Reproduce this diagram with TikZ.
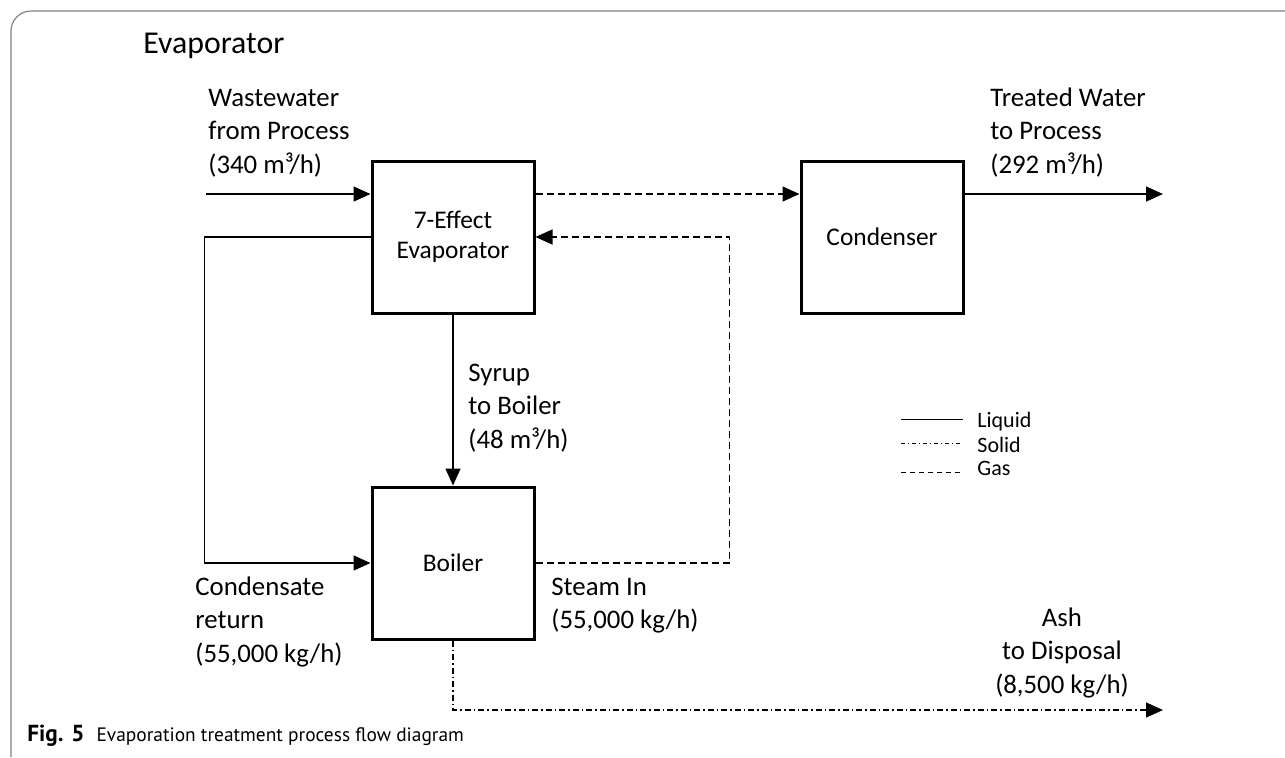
\documentclass[tikz,border=0pt]{standalone}
\usepackage{fontspec}
\setmainfont{Carlito}
\newfontfamily\capfont{PT Sans}
\usetikzlibrary{arrows.meta,positioning,calc}
\definecolor{framegray}{RGB}{128,128,128}

\begin{document}
\begin{tikzpicture}[
  x=0.5pt,y=-0.5pt,
  unit/.style={draw,line width=1.5pt,minimum width=81pt,minimum height=76pt,inner sep=0pt,align=center,font=\fontsize{12.7}{15}\selectfont},
  lbl/.style={anchor=north west,inner sep=0pt,align=left,font=\fontsize{13.4}{16.75}\selectfont},
  arr/.style={-{Triangle[length=8.5pt,width=7.5pt]},line width=0.75pt},
  gas/.style={arr,dash pattern=on 3.5pt off 2pt},
  ash/.style={arr,dash pattern=on 3pt off 1.5pt on 0.75pt off 1.5pt},
  key/.style={anchor=west,inner sep=0pt,text height=0.7em,text depth=0.25em,font=\fontsize{11}{13}\selectfont}
]
\useasboundingbox (0,0) rectangle (1285,757);
% frame and title
\draw[framegray,line width=0.6pt,rounded corners=10pt] (11,757) -- (11,11) -- (1285,11);
\node[anchor=base west,inner sep=0pt,font=\fontsize{15.9}{19}\selectfont] (title) at (143,53) {Evaporator};

% units
\node[unit] (evap) at (453,237) {7-Effect\\Evaporator};
\node[unit] (cond) at (882,237) {Condenser};
\node[unit] (boiler) at (453,563) {Boiler};

% free ends
\coordinate (wwin) at (206,194);
\coordinate (twout) at (1163,194);
\coordinate (ashout) at (1163,710);
\coordinate (e1) at ([yshift=21.5pt]evap.east);

% streams
\draw[arr] (wwin) -- (wwin -| evap.west);
\draw[gas] (e1) -- (e1 -| cond.west);
\draw[arr] (e1 -| cond.east) -- (twout);
\draw[arr] (evap.south) -- (boiler.north);
\draw[arr] (evap.west) -- ++(-83pt,0) |- (boiler.west);
\draw[gas] (boiler.east) -- ++(97pt,0) |- (evap.east);
\draw[ash] (boiler.south) |- (ashout);

% stream labels
\node[lbl] (wwlbl) at (208,82.5) {\strut Wastewater\\from Process\\(340 m³/h)};
\node[lbl] (twlbl) at (990,82.5) {\strut Treated Water\\to Process\\(292 m³/h)};
\node[lbl] (sylbl) at (468,357.5) {\strut Syrup\\to Boiler\\(48 m³/h)};
\node[lbl] (crlbl) at (195,571.5) {\strut Condensate\\return\\(55,000 kg/h)};
\node[lbl] (stlbl) at (551,571.5) {\strut Steam In\\(55,000 kg/h)};
\node[lbl,anchor=north,align=center] (ashlbl) at (1062,602.5) {\strut Ash\\to Disposal\\(8,500 kg/h)};

% legend
\coordinate (k1) at (901,419);
\coordinate (k2) at (901,443);
\coordinate (k3) at (901,472);
\draw[line width=0.5pt] (k1) -- ++(31pt,0);
\draw[line width=0.5pt,dash pattern=on 2pt off 1.5pt on 0.5pt off 1.5pt] (k2) -- ++(31pt,0);
\draw[line width=0.5pt,dash pattern=on 2.5pt off 2pt] (k3) -- ++(31pt,0);
\node[key] (kliq) at (977,423) {Liquid};
\node[key] (ksol) at (977,448) {Solid};
\node[key] (kgas) at (977,471) {Gas};

% caption
\node[anchor=base west,inner sep=0pt,font=\capfont\fontsize{9.7}{12}\selectfont] (caption) at (27,741) {{\fontsize{11.6}{12}\selectfont\bfseries Fig. 5}\hspace{6pt}Evaporation treatment process flow diagram};
\end{tikzpicture}
\end{document}
